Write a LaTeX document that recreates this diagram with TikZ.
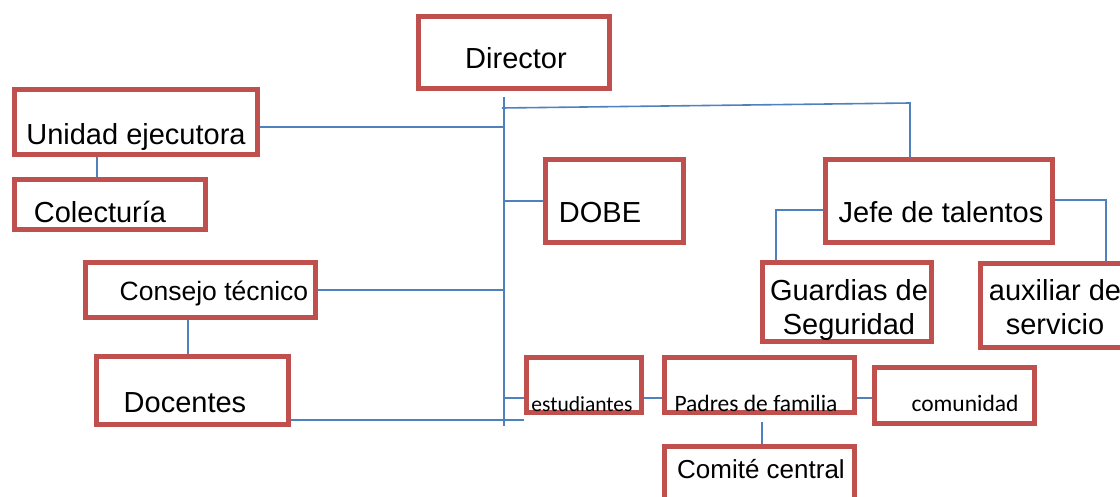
\documentclass[tikz,border=0pt]{standalone}
\usepackage{fontspec}
\setmainfont{Liberation Sans}
\newfontfamily\narrowfont{Carlito}
\usetikzlibrary{positioning, calc}
\usetikzlibrary{backgrounds}
\definecolor{boxred}{HTML}{C0504D}
\definecolor{linkblue}{HTML}{4F81BD}

\begin{document}
\begin{tikzpicture}[x=1pt,y=-1pt]
 	\tikzstyle{o-node}=[rectangle,draw=boxred,line width=4.5pt,inner sep=0pt]
 	\tikzstyle{annot}=[inner sep=0pt,anchor=base,font=\fontsize{29}{34}\selectfont]
 	\tikzstyle{annot-s}=[annot,font=\narrowfont\fontsize{23.5}{28}\selectfont]
 	\tikzstyle{link}=[draw=linkblue,line width=1.6pt]
 	\useasboundingbox (0,0) rectangle (1120,497);

 	% boxes
 	\node[o-node,minimum width=191pt,minimum height=72pt] (director)    at (514,52.5)   {};
 	\node[o-node,minimum width=243pt,minimum height=65pt] (unidad)      at (136,122)    {};
 	\node[o-node,minimum width=191pt,minimum height=50pt] (colecturia)  at (110,204.5)  {};
 	\node[o-node,minimum width=230pt,minimum height=55pt] (consejo)     at (200.5,290)  {};
 	\node[o-node,minimum width=192pt,minimum height=68pt] (docentes)    at (192.5,390.5){};
 	\node[o-node,minimum width=138pt,minimum height=83pt] (dobe)        at (614.5,201)  {};
 	\node[o-node,minimum width=227pt,minimum height=83pt] (jefe)        at (939,201)    {};
 	\node[o-node,minimum width=169pt,minimum height=79pt] (guardias)    at (847,302)    {};
 	\node[o-node,minimum width=145pt,minimum height=84pt] (auxiliar)    at (1053,305.5) {};
 	\node[o-node,minimum width=115pt,minimum height=55pt] (estudiantes) at (584,385)    {};
 	\node[o-node,minimum width=190pt,minimum height=55pt] (padres)      at (759.5,385)  {};
 	\node[o-node,minimum width=160pt,minimum height=56pt] (comunidad)   at (954.5,395.5){};
 	\node[o-node,minimum width=190pt,minimum height=61pt] (comite)      at (759.5,477)  {};

 	% labels
 	\node[annot] (director-label)   at (516,69)  {Director};
 	\node[annot] (unidad-label)     at (136,145) {Unidad ejecutora};
 	\node[annot] (colecturia-label) at (100,223) {Colecturía};
 	\node[annot,font=\fontsize{26.5}{32}\selectfont] (consejo-label) at (214,301) {Consejo técnico};
 	\node[annot] (docentes-label)   at (185,412) {Docentes};
 	\node[annot] (dobe-label)       at (600,223) {DOBE};
 	\node[annot] (jefe-label)       at (941,223) {Jefe de talentos};
 	\node[annot,align=center,anchor=north] (guardias-label) at (849,279.5)  {Guardias de\\Seguridad};
 	\node[annot,align=center,anchor=north] (auxiliar-label) at (1055,279.5) {auxiliar de\\servicio};
 	\node[annot-s,font=\narrowfont\fontsize{21.5}{26}\selectfont] (estudiantes-label) at (582,411) {estudiantes};
 	\node[annot-s] (padres-label)    at (756,411) {Padres de familia};
 	\node[annot-s] (comunidad-label) at (965,411) {comunidad};
 	\node[annot,font=\fontsize{26}{31}\selectfont] (comite-label) at (761,478) {Comité central};

 	% connectors
 	\coordinate (spine-top) at (504,97);
 	\coordinate (spine-bot) at (504,426);
 	\coordinate (top-left)  at (502,108);
 	\coordinate (top-right) at (910,103);
 	\coordinate (fam-row)   at (0,398);
 	\coordinate (colect-in)   at ([xshift=-13pt]colecturia.north);
 	\coordinate (docentes-in) at ([xshift=-4.5pt]docentes.north);
 	\coordinate (docentes-out) at ([yshift=-29.5pt]docentes.east);
 	\coordinate (padres-out)  at ([xshift=2.5pt,yshift=-7pt]padres.south);

 	\begin{pgfonlayer}{background}
 	\path[link] (spine-top) -- (spine-bot);
 	\path[link] (top-left) -- (top-right) -- (top-right |- jefe.north);
 	\path[link] ([yshift=-5pt]unidad.east) -| (spine-top);
 	\path[link] (dobe.west) -| (spine-top);
 	\path[link] (consejo.east) -| (spine-top);
 	\path[link] (docentes-out) -- (docentes-out -| estudiantes.west);
 	\path[link] (colect-in) -- (colect-in |- unidad.south);
 	\path[link] (docentes-in) -- (docentes-in |- consejo.south);
 	\path[link] (spine-top |- fam-row) -- (estudiantes.west |- fam-row);
 	\path[link] (estudiantes.east |- fam-row) -- (padres.west |- fam-row);
 	\path[link] (padres.east |- fam-row) -- (comunidad.west |- fam-row);
 	\path[link] (padres-out) -- (padres-out |- comite.north);
 	\path[link] ([yshift=-9pt]jefe.west) -| ([xshift=16pt]guardias.north west);
 	\path[link] ([yshift=1pt]jefe.east) -| ([xshift=127.5pt]auxiliar.north west);
 	\end{pgfonlayer}
\end{tikzpicture}
\end{document}
